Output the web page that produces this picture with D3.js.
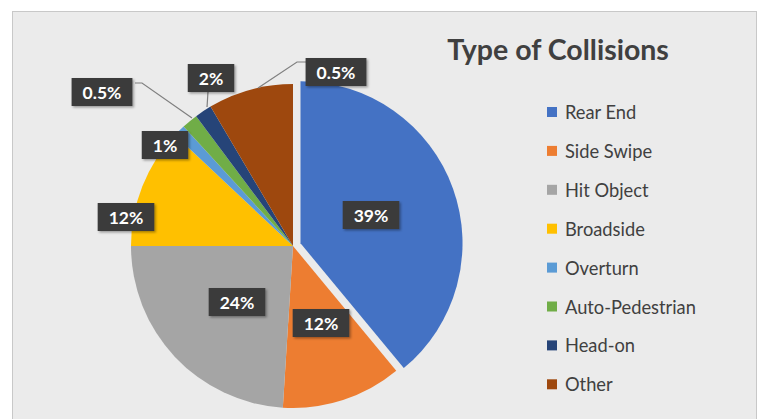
<!DOCTYPE html>
<html><head><meta charset="utf-8">
<script src="https://cdn.jsdelivr.net/npm/d3@7"></script>
<style>body{margin:0;background:#fff}svg{display:block}</style>
</head><body><svg id="c" width="759" height="419"></svg>
<script>
const categories = ["Rear End","Side Swipe","Hit Object","Broadside","Overturn","Auto-Pedestrian","Head-on","Other"];
const values = [39, 12, 24, 12, 1.2, 1.6, 1.7, 8.5];
const labels = ["39%","12%","24%","12%","1%","0.5%","2%","0.5%"];
const colors = ["#4472c4","#ed7d31","#a5a5a5","#ffc000","#5b9bd5","#70ad47","#264478","#9e480e"];
const title = "Type of Collisions";

const svg = d3.select("#c");
const font = "Lato, 'Open Sans', sans-serif";
svg.append("rect").attr("x",0).attr("y",0).attr("width",759).attr("height",419).attr("fill","#fff");
svg.append("rect").attr("x",12.5).attr("y",11.5).attr("width",744).attr("height",420)
  .attr("fill","#ebebeb").attr("stroke","#c8c8c8").attr("stroke-width",1);

const defs = svg.append("defs");
const f = defs.append("filter").attr("id","sh").attr("x","-20%").attr("y","-20%").attr("width","150%").attr("height","160%");
f.append("feDropShadow").attr("dx",1.5).attr("dy",1.5).attr("stdDeviation",1.2).attr("flood-color","#000").attr("flood-opacity",0.35);

const cx = 293, cy = 246, r = 162, explode = 8;
const pie = d3.pie().sort(null).value(d=>d)(values);
const arc = d3.arc().innerRadius(0).outerRadius(r);
const g = svg.append("g").attr("transform",`translate(${cx},${cy})`);
g.selectAll("path").data(pie).join("path")
  .attr("d",arc)
  .attr("fill",(d,i)=>colors[i])
  .attr("transform",(d,i)=>{
    if(i!==0) return null;
    const m=(d.startAngle+d.endAngle)/2;
    return `translate(${explode*Math.sin(m)},${-explode*Math.cos(m)})`;
  });

// absolute centres of label boxes
const boxCentre = [[371,215],[321,323],[237,302],[126,217],[165,145],[102,92],[211,78],[336,72]];
const leaders = [null,null,null,null,null,
  [[135,83],[142,83],[192,118]],
  [[208,92],[207,107]],
  [[306,62],[297,62],[258,88]]];

const lg = svg.append("g");
leaders.forEach(l=>{ if(l) lg.append("path").attr("d",d3.line()(l)).attr("fill","none").attr("stroke","#7f7f7f").attr("stroke-width",1.2);});

labels.forEach((t,i)=>{
  const [x,y]=boxCentre[i];
  const gg = svg.append("g");
  const txt = gg.append("text").attr("x",x).attr("y",y).attr("text-anchor","middle").attr("dominant-baseline","central")
    .attr("font-family",font).attr("font-weight","bold").attr("font-size",17.5).attr("fill","#fff").text(t);
  const bb = txt.node().getBBox();
  gg.insert("rect","text").attr("x",bb.x-11).attr("y",y-14).attr("width",bb.width+22).attr("height",28)
    .attr("fill","#3a3a3a").attr("filter","url(#sh)");
});

svg.append("text").attr("x",558).attr("y",60).attr("text-anchor","middle")
  .attr("font-family",font).attr("font-weight","bold").attr("font-size",28.5).attr("fill","#404040").text(title);

const legendY0 = 112, legendStep = 38.9;
const leg = svg.append("g");
categories.forEach((c,i)=>{
  const y = legendY0 + i*legendStep;
  leg.append("rect").attr("x",547).attr("y",y-5).attr("width",10).attr("height",10).attr("fill",colors[i]);
  leg.append("text").attr("x",565).attr("y",y).attr("dominant-baseline","central")
    .attr("font-family",font).attr("font-size",18.3).attr("fill","#404040").text(c);
});
</script></body></html>
